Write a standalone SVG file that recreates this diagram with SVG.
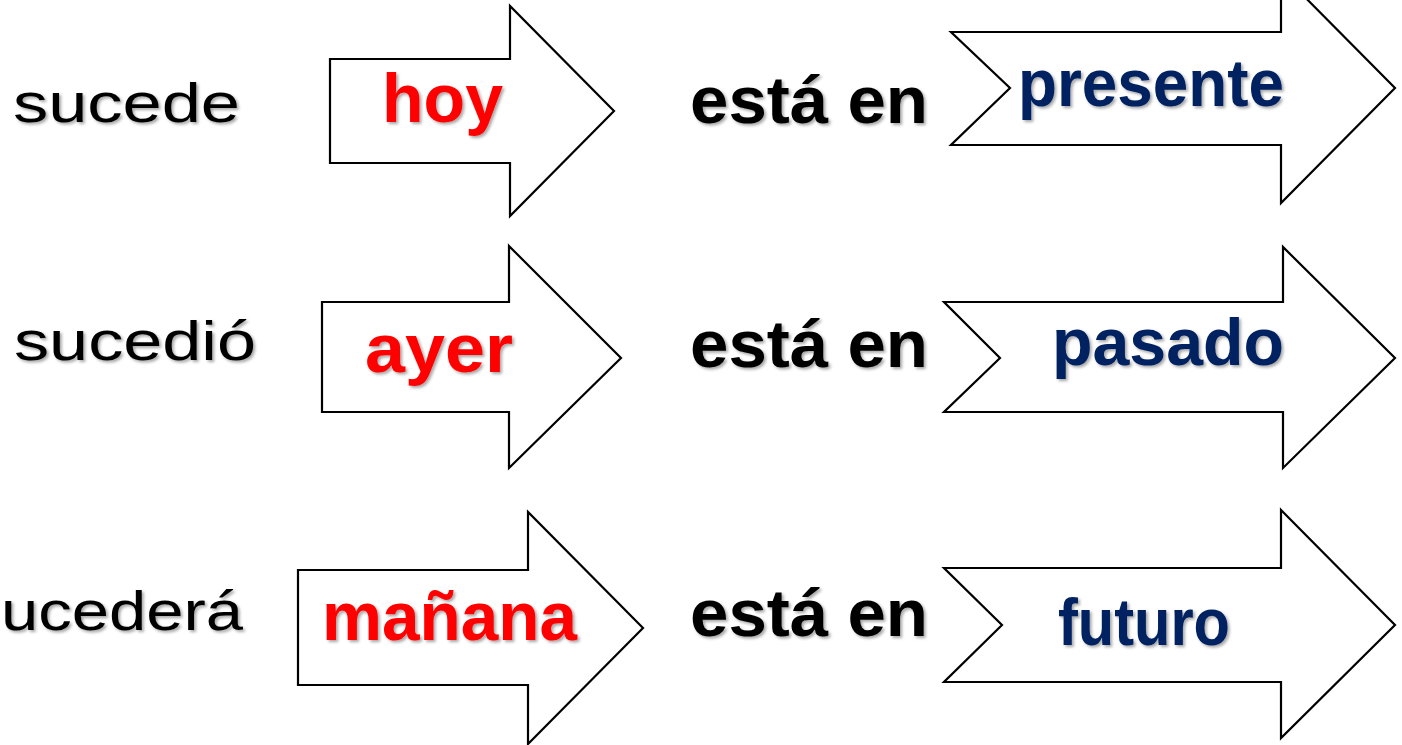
<svg xmlns="http://www.w3.org/2000/svg" width="1402" height="745" viewBox="0 0 1402 745">
  <defs>
    <filter id="sh" x="-10%" y="-20%" width="130%" height="150%">
      <feDropShadow dx="2" dy="2" stdDeviation="1.5" flood-color="#000" flood-opacity="0.35"/>
    </filter>
  </defs>
  <style>
    .arrow { fill: #ffffff; stroke: #000000; stroke-width: 2.2; stroke-linejoin: miter; }
    .verb { font-family: "Liberation Sans", Arial, sans-serif; font-size: 56px; fill: #000000; filter: url(#sh); }
    .esta { font-family: "Liberation Sans", Arial, sans-serif; font-size: 66px; font-weight: bold; fill: #000000; filter: url(#sh); }
    .red { font-family: "Liberation Sans", Arial, sans-serif; font-size: 68px; font-weight: bold; fill: #ff0000; filter: url(#sh); }
    .blue { font-family: "Liberation Sans", Arial, sans-serif; font-size: 66px; font-weight: bold; fill: #002060; filter: url(#sh); }
  </style>
  <rect x="0" y="0" width="1402" height="745" fill="#ffffff"/>

  <g id="row1-verb"><text class="verb" x="13" y="122" textLength="227" lengthAdjust="spacingAndGlyphs">sucede</text></g>
  <g id="row2-verb"><text class="verb" x="14" y="360" textLength="242" lengthAdjust="spacingAndGlyphs">sucedió</text></g>
  <g id="row3-verb"><text class="verb" x="1" y="630" textLength="242" lengthAdjust="spacingAndGlyphs">ucederá</text></g>

  <g id="arrow-hoy">
    <path class="arrow" d="M330,59 H510 V6 L614,111 L510,216 V163 H330 Z"/>
    <text class="red" x="382" y="122" textLength="121" lengthAdjust="spacingAndGlyphs">hoy</text>
  </g>
  <g id="arrow-ayer">
    <path class="arrow" d="M322,302 H509 V246 L621,358 L509,468 V412 H322 Z"/>
    <text class="red" x="365" y="372" textLength="148" lengthAdjust="spacingAndGlyphs">ayer</text>
  </g>
  <g id="arrow-manana">
    <path class="arrow" d="M298,570 H528 V512 L643,628 L528,744 V685 H298 Z"/>
    <text class="red" x="322" y="640" textLength="255" lengthAdjust="spacingAndGlyphs">mañana</text>
  </g>

  <g id="row1-esta"><text class="esta" x="690" y="123" textLength="238" lengthAdjust="spacingAndGlyphs">está en</text></g>
  <g id="row2-esta"><text class="esta" x="690" y="367" textLength="238" lengthAdjust="spacingAndGlyphs">está en</text></g>
  <g id="row3-esta"><text class="esta" x="690" y="636" textLength="238" lengthAdjust="spacingAndGlyphs">está en</text></g>

  <g id="arrow-presente">
    <path class="arrow" d="M951,32 H1281 V-27 L1395,88 L1281,203 V145 H951 L1010,88 Z"/>
    <text class="blue" x="1018" y="106" textLength="266" lengthAdjust="spacingAndGlyphs">presente</text>
  </g>
  <g id="arrow-pasado">
    <path class="arrow" d="M944,302 H1283 V247 L1395,358 L1283,468 V412 H944 L1000,358 Z"/>
    <text class="blue" x="1052" y="365" textLength="232" lengthAdjust="spacingAndGlyphs">pasado</text>
  </g>
  <g id="arrow-futuro">
    <path class="arrow" d="M944,568 H1281 V510 L1395,625 L1281,738 V682 H944 L1002,625 Z"/>
    <text class="blue" x="1058" y="645" textLength="172" lengthAdjust="spacingAndGlyphs">futuro</text>
  </g>
</svg>
